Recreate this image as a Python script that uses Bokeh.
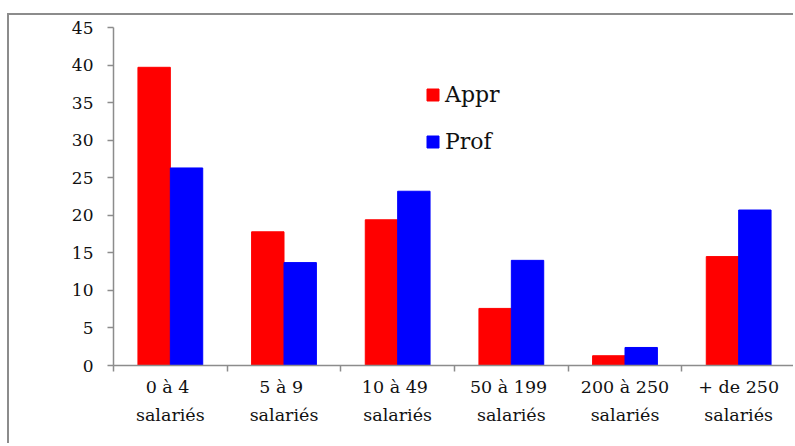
from bokeh.plotting import figure
from bokeh.models import Range1d, FixedTicker, ColumnDataSource
from bokeh.embed import file_html
from bokeh.resources import INLINE

categories = ["0  à 4\nsalariés", "5  à 9\nsalariés", "10  à 49\nsalariés",
              "50  à 199\nsalariés", "200 à 250\nsalariés", "+ de 250\nsalariés"]
appr = [39.7, 17.8, 19.4, 7.6, 1.3, 14.5]
prof = [26.3, 13.7, 23.2, 14.0, 2.4, 20.7]
y_ticks = [0, 5, 10, 15, 20, 25, 30, 35, 40, 45]

centers = [i + 0.5 for i in range(len(categories))]
bar_w = 0.285
src = ColumnDataSource(dict(
    xa=[c - bar_w / 2 for c in centers],
    xp=[c + bar_w / 2 for c in centers],
    appr=appr, prof=prof))

FONT = "DejaVu Serif"
GRAY = "#8c8c8c"

p = figure(width=786, height=430, output_backend="svg", toolbar_location=None,
           x_range=Range1d(0, len(categories)), y_range=Range1d(0, 45),
           min_border_left=104, min_border_right=0, min_border_top=12,
           min_border_bottom=80)
p.styles = {"border-top": "2px solid #8c8c8c", "border-left": "2px solid #8c8c8c",
            "border-right": "0px solid transparent", "border-bottom": "0px solid transparent",
            "outline": "none", "box-shadow": "none", "overflow": "hidden",
            "margin-top": "13px", "margin-left": "7px"}

p.vbar(x="xa", top="appr", width=bar_w, source=src, color="#ff0000",
       legend_label="Appr")
p.vbar(x="xp", top="prof", width=bar_w, source=src, color="#0000ff",
       legend_label="Prof")

p.xgrid.visible = False
p.ygrid.visible = False
p.outline_line_color = None
p.background_fill_color = "white"
p.border_fill_color = "white"

# y axis
p.yaxis.ticker = FixedTicker(ticks=y_ticks)
p.yaxis.axis_line_color = GRAY
p.yaxis.axis_line_width = 1.5
p.yaxis.major_tick_line_color = GRAY
p.yaxis.major_tick_line_width = 1.5
p.yaxis.major_tick_out = 6
p.yaxis.major_tick_in = 0
p.yaxis.minor_tick_line_color = None
p.yaxis.major_label_standoff = 14
p.yaxis.major_label_text_font = FONT
p.yaxis.major_label_text_font_size = "17px"
p.yaxis.major_label_text_color = "#111111"

# x axis
p.xaxis.ticker = FixedTicker(ticks=centers, minor_ticks=list(range(len(categories))))
p.xaxis.major_label_overrides = {c: lab for c, lab in zip(centers, categories)}
p.xaxis.axis_line_color = GRAY
p.xaxis.axis_line_width = 1.5
p.xaxis.major_tick_line_color = None
p.xaxis.major_tick_out = 0
p.xaxis.major_tick_in = 0
p.xaxis.minor_tick_line_color = GRAY
p.xaxis.minor_tick_line_width = 1.5
p.xaxis.minor_tick_out = 6
p.xaxis.minor_tick_in = 0
p.xaxis.major_label_standoff = 5
p.xaxis.major_label_text_font = FONT
p.xaxis.major_label_text_font_size = "17.5px"
p.xaxis.major_label_text_line_height = 1.4
p.xaxis.major_label_text_color = "#111111"

# legend
lg = p.legend[0]
lg.location = (312, 211)
lg.padding = 0
lg.margin = 0
lg.spacing = 21
lg.glyph_width = 15
lg.glyph_height = 15
lg.label_height = 26
lg.label_standoff = 5
lg.label_text_font = FONT
lg.label_text_font_size = "22px"
lg.label_text_color = "#111111"
lg.border_line_color = None
lg.background_fill_alpha = 0

open("out.html", "w").write(file_html(p, INLINE))
